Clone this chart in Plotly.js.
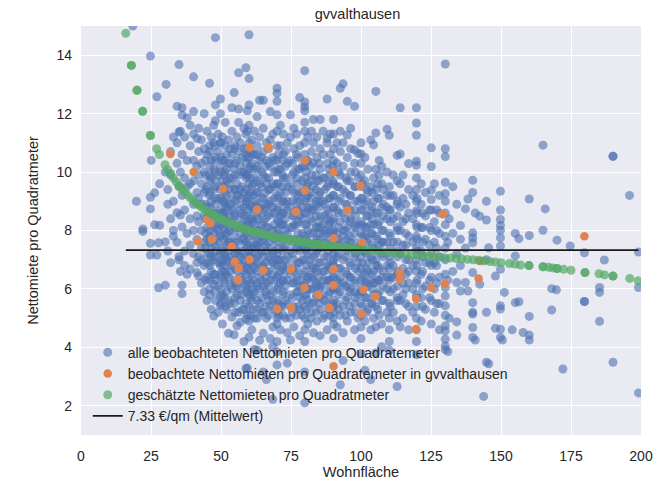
<!DOCTYPE html>
<html>
<head>
<meta charset="utf-8">
<script src="https://cdn.plot.ly/plotly-3.0.1.min.js"></script>
<style>html,body{margin:0;padding:0;background:#fff}#chart{width:656px;height:482px}</style>
</head>
<body>
<div id="chart"></div>
<script>
// ---- data ----
const chartTitle = "gvvalthausen";
const meanRent = 7.33;

// all observed rents per m² grouped by living area (Wohnfläche) — outer part of the cloud
const blueSizes = [18.5,19.8,22.1,24.8,25.1,26.3,27.1,27.7,28.1,30.1,
  30.4,31,32,33,34.3,35,35.5,36.1,37,37.9,
  39,40.2,41.4,42,43,44,45,45.9,46.5,47.4,
  48,49,49.8,50.5,51.5,52.7,53.9,54.7,55.7,56.3,
  56.9,58.2,58.9,59.4,60,61,62,62.9,63.8,65.1,
  66.2,67.6,68.5,70,71.2,72.3,73.7,74.8,76,77,
  78.1,79.9,81,82.3,83,84.2,85.4,86.5,87.9,89,
  90.2,91.4,92.6,93.6,95.1,96.3,97.7,99,100,101.4,
  102.5,103.5,104.5,105.3,106.5,107.4,109.3,110.1,111.5,112.9,
  114,115,117,118.5,119.8,121.5,123,125.1,126.2,128,
  130.1,131,131.5,132.8,134.2,135.5,137.3,138.2,139.9,140.8,
  142.4,143.8,144.8,145.6,148,149.8,150.5,151.2,154,155.1,
  156.4,157.9,160.1,165,165.8,168.1,169.8,170,172.1,174.7,
  179.8,185.2,186.9,190,195.9,199.1];
const blueRents = [
  [15.0],[9.0],[7.97,8.05],[13.97,9.14,8.74,7.56,7.16],[10.4],[9.29,8.2],[12.58,7.16],[7.58,6.04],[8.18,9.6],[6.13,7.61,10.0],
  [13.0],[8.9,7.3,9.4],[10.7,8.4,6.9,9.9],[9.0,7.8,11.2,8.0],[12.25,7.6,8.61,10.3,11.0],[7.1,7.0,9.5,13.68,11.37],[8.53,10.0,11.4,6.6],[12.2,11.95,8.12,6.13,5.84,9.2,10.6],[7.3,8.7,9.8,11.2,6.8],[11.86,9.5,7.9,10.4,6.5],
  [6.68,8.4,9.6,10.9,7.5,11.6],[13.26,12.07,7.2,8.0,8.9,9.7,10.4,11.3],[6.56,7.7,8.5,9.3,10.2,11.15,6.9],[6.44,7.1,8.3,9.1,9.9,10.7,11.5],[6.2,7.4,8.0,8.9,9.6,10.3,11.1,7.0],[5.9,6.8,7.6,8.5,9.3,10.0,10.8,12.0],[6.4,7.2,8.1,8.8,9.5,10.6,11.4,5.6,7.7],[13.04,6.0,6.9,7.8,8.5,9.2,9.9,10.9],[5.3,6.6,7.4,8.2,9.0,9.8,10.4,11.2,7.1],[6.16,5.07,7.0,7.9,8.6,9.4,10.1,11.0,11.6,6.5],
  [14.6,12.3,11.76,5.6,6.3,7.3,8.1,8.9,9.7,10.5,7.7],[5.2,6.1,6.9,7.6,8.4,9.1,9.9,10.7,11.3,8.0],[12.5,12.0,5.73,5.44,6.5,7.2,7.9,8.7,9.4,10.2,11.0,6.8],[4.8,5.8,6.6,7.4,8.2,9.0,9.7,10.4,11.2,7.0,8.6],[5.4,6.2,7.1,7.8,8.5,9.3,10.0,10.9,11.7,6.6,8.9],[4.48,5.6,6.4,7.3,8.0,8.8,9.6,10.3,11.1,6.9,7.6],[5.04,6.0,6.8,7.5,8.3,9.1,9.8,10.6,11.4,12.2,8.7],[12.72,4.43,5.5,6.3,7.0,7.8,8.6,9.4,10.1,10.8,7.4],[4.74,5.8,6.6,7.3,8.1,8.9,9.6,10.4,11.2,6.1,9.2],[13.4,12.16,11.7,5.2,6.0,6.9,7.6,8.4,9.2,9.9,10.7,7.2],
  [4.86,5.6,6.4,7.1,7.9,8.7,9.4,10.2,11.0,8.1],[4.2,5.3,6.2,7.0,7.7,8.5,9.3,10.0,10.8,11.5,6.6,8.8],[13.57,4.97,3.28,5.9,6.7,7.4,8.2,9.0,9.8,10.5,11.3,7.9],[3.29,5.1,6.0,6.8,7.5,8.3,9.1,9.9,10.6,11.4,12.1],[14.7,13.2,4.35,5.4,5.8,6.3,6.9,7.3,7.8,8.2,8.7,9.2,9.6,10.1,10.5,11.0,11.6,12.3,4.9,7.1],[4.6,5.6,6.5,7.2,8.0,8.8,9.5,10.3,11.1,6.0,8.4],[3.93,5.0,5.9,6.7,7.5,8.2,9.0,9.8,10.6,11.4,7.0],[11.9,3.9,5.3,6.2,6.9,7.7,8.5,9.3,10.1,10.9,7.4,8.9],[4.24,5.5,6.4,7.2,8.0,8.8,9.6,10.4,11.2,6.0,7.6,12.46],[12.46,4.48,3.16,5.2,6.1,6.8,7.6,8.3,9.1,9.9,10.7,11.5,7.1,8.7],
  [2.9,5.0,5.8,6.6,7.3,8.1,8.9,9.6,10.4,11.0,6.2,7.8],[12.07,4.3,5.4,6.3,7.0,7.8,8.6,9.4,10.2,11.1,5.8,7.4,9.0],[2.22,4.02,4.7,5.6,6.5,7.2,8.0,8.8,9.6,10.5,11.3,6.9],[12.87,12.7,12.42,11.96,4.2,3.85,3.4,4.8,5.2,5.6,6.0,6.4,6.8,7.2,7.6,8.0,8.4,8.8,9.2,9.6,10.0,10.4,10.9,11.4,5.0,7.0],[4.6,5.4,6.2,7.0,7.8,8.5,9.3,10.1,10.9,11.6,6.6,8.2],[5.1,5.9,6.7,7.4,8.2,9.0,9.8,10.6,11.3,6.3,8.6],[3.46,4.5,5.5,6.3,7.1,7.9,8.7,9.5,10.3,11.0,6.8,9.0],[11.96,4.25,5.0,5.8,6.5,7.3,8.1,8.8,9.6,10.4,11.2,7.7],[4.7,5.4,6.2,7.0,7.7,8.5,9.3,10.0,10.8,11.5,6.6,8.2],[5.1,5.9,6.7,7.4,8.2,9.0,9.8,10.6,11.3,6.3,8.7],
  [12.55,4.4,5.3,6.1,6.9,7.7,8.5,9.3,10.1,10.9,5.7,7.3,9.0],[13.47,12.4,12.23,12.1,11.7,3.16,2.1,4.6,5.0,5.4,5.8,6.2,6.6,7.0,7.4,7.8,8.2,8.6,9.0,9.4,9.8,10.2,10.6,11.0,11.4,4.2],[4.8,5.6,6.4,7.2,8.0,8.8,9.6,10.4,11.2,6.0,7.6,9.2],[5.2,6.0,6.8,7.5,8.3,9.1,9.9,10.7,11.4,6.4,8.7],[11.8,4.5,5.5,6.3,7.1,7.9,8.7,9.5,10.3,11.0,6.7],[4.9,5.8,6.6,7.3,8.1,8.9,9.7,10.5,11.2,6.1,7.7],[4.4,5.3,6.1,6.9,7.7,8.5,9.3,10.1,10.8,5.7,8.1,9.0,11.8],[5.0,5.8,6.6,7.4,8.2,9.0,9.8,10.6,11.4,6.3,7.9],[12.5,11.15,4.6,5.5,6.3,7.1,7.9,8.7,9.5,10.3,11.0,6.8,8.4],[5.1,5.9,6.7,7.5,8.3,9.1,9.9,10.6,11.3,6.3,8.0],
  [4.3,4.8,5.2,5.6,6.0,6.4,6.8,7.2,7.6,8.0,8.4,8.8,9.2,9.6,10.0,10.4,10.8,11.3,11.8,5.4,7.0],[4.7,5.5,6.3,7.1,7.9,8.7,9.5,10.3,11.0,6.0,7.6],[12.87,2.72,5.1,5.9,6.7,7.5,8.3,9.1,9.9,10.7,11.4,6.4],[13.02,3.55,4.5,5.4,6.2,7.0,7.8,8.6,9.4,10.2,11.0,8.0],[12.42,11.27,4.9,5.7,6.5,7.3,8.1,8.9,9.7,10.5,6.1,7.7],[5.2,6.0,6.8,7.6,8.4,9.2,10.0,10.8,11.5,6.4],[12.25,10.76,4.6,5.5,6.3,7.1,7.9,8.7,9.5,10.3,5.9,8.2],[5.0,5.8,6.6,7.4,8.2,9.0,9.8,10.64,6.9],[10.62,3.79,4.3,4.7,5.1,5.5,5.9,6.3,6.7,7.1,7.5,7.9,8.3,8.7,9.1,9.5,9.9,10.3,11.0,6.0],[3.22,4.9,5.7,6.5,7.3,8.1,8.9,9.7,10.5,6.2,7.8],
  [5.3,6.1,6.9,7.7,8.5,9.3,10.1,6.6],[2.9,4.6,5.5,6.3,7.1,7.9,8.7,9.5,11.1,8.2],[10.93,5.0,5.8,6.6,7.4,8.2,9.0,9.8,6.2],[11.34,3.81,4.7,5.4,6.2,7.0,7.8,8.6,9.4,10.1,12.76,6.8],[5.1,5.9,6.7,7.5,8.3,9.1,9.9,10.4,6.3],[4.02,4.8,5.6,6.4,7.2,8.0,8.8,9.6,10.2,7.6],[11.47,5.2,6.0,6.8,7.6,8.4,9.2,10.0,6.4,8.8],[11.26,4.2,3.9,4.6,5.5,6.3,7.1,7.9,8.7,9.5,5.0,6.7],[5.2,6.0,6.8,7.6,8.4,9.2,9.9,6.4],[2.66,10.57,4.9,5.7,6.5,7.3,8.1,8.9,9.7],
  [12.2,10.62,4.7,5.6,6.4,7.2,8.0,8.8,9.6],[5.0,5.8,6.7,7.5,8.3,9.1,9.9,6.2],[10.29,4.6,5.4,6.2,7.0,7.8,8.6,9.4,6.6],[5.2,6.0,6.8,7.6,8.4,9.2],[12.2,11.68,11.26,10.37,10.23,4.2,3.75,4.6,5.0,5.4,5.8,6.2,6.6,7.0,7.4,7.8,8.2,8.68,9.0,9.4,9.8],[4.9,5.7,6.5,7.3,8.1,8.9,9.6],[5.3,6.1,6.9,7.7,8.5,9.3],[10.83,10.19,9.06,9.38,4.8,5.6,6.4,7.2,8.0,8.7,6.8],[5.2,6.0,6.9,7.6,8.3,9.6],[4.6,5.5,6.4,7.1,7.9,8.6,9.2],
  [13.7,10.8,10.53,9.65,9.26,4.74,4.57,4.28,4.05,3.92,6.05,5.76,5.42,5.1,6.5,7.0,7.4,7.8,8.2,8.6,9.0],[3.86,6.3,7.6],[5.0,8.4],[6.6,7.9,9.5],[8.9,4.87,4.42,6.22,7.2],[8.17,5.93,6.8,7.7],[8.74,6.22,7.4],[5.93,9.08],[9.72,9.3,7.92,7.75,7.58,6.56,5.53,5.2,5.14,4.68,4.34],[4.25,8.6],
  [8.49,6.16],[2.32],[9.0,8.36,5.2,3.49,7.0],[7.41,3.44],[6.44,4.65],[9.34,8.7,8.38,8.17,8.01,7.75,7.47,6.67,5.42,5.31,4.62,4.34],[4.25],[5.88],[4.6],[7.9,7.13,5.53],
  [7.72,5.56],[4.51],[9.08,7.83,5.06,4.42,4.25],[10.92,8.01],[8.74],[6.01,5.28],[5.97],[7.67],[3.26],[7.47],
  [7.24,5.57,5.57],[6.05,5.88,4.89],[6.99],[10.54,10.54,3.49],[9.2],[7.26,6.05,2.44]
];

// all observed rents — dense core of the cloud
const coreSizes = [44.5,46,47.8,50,51,52,53.2,55,57.5,59,
  60.5,61.5,63,64.5,66,67,69,70.5,72,73,
  75.5,77.5,79,80.5,82,84,85,87,88.5,90,
  92,94.5,96,98,100.5,102,104,106,108,110.5,
  113,116,120,122,124.5,127];
const coreRents = [
  [6.3,6.9,7.4,7.9,8.4,8.9,9.4,9.9,10.4],
  [5.8,6.3,6.8,7.2,7.6,8.0,8.4,8.8,9.3,9.7,10.2,10.7],
  [5.9,6.5,7.1,7.5,8.2,8.6,9.1,9.5,10.0,10.4,10.9],
  [5.5,6.0,6.4,6.9,7.3,7.8,8.2,8.6,9.1,9.5,10.0,10.5,11.0],
  [5.7,6.3,6.8,7.2,7.7,8.1,8.6,9.0,9.5,9.9,10.4],
  [5.3,5.9,6.5,7.0,7.5,7.9,8.3,8.8,9.2,9.7,10.1,10.6],
  [5.5,6.1,6.6,7.1,7.6,8.0,8.5,8.9,9.4,9.8,10.3,10.8],
  [5.2,5.7,6.2,6.7,7.2,7.6,8.1,8.5,9.0,9.4,9.9,10.3,10.9],
  [5.3,5.8,6.3,6.8,7.3,7.7,8.2,8.6,9.1,9.5,10.0,10.5],
  [5.5,6.1,6.5,7.1,7.6,8.0,8.5,8.9,9.4,9.9,10.3,10.8],
  [5.1,5.7,6.2,6.6,7.1,7.5,8.0,8.4,8.9,9.3,9.8,10.2,10.7],
  [5.3,5.8,6.3,6.8,7.4,7.8,8.3,8.7,9.2,9.6,10.1,10.6],
  [5.0,5.6,6.1,6.6,7.1,7.5,8.0,8.4,8.8,9.3,9.7,10.2,10.6],
  [5.2,5.7,6.3,6.8,7.3,7.8,8.2,8.6,9.1,9.5,10.0,10.5],
  [5.4,5.9,6.4,6.9,7.5,7.9,8.4,8.8,9.3,9.8,10.2],
  [5.1,5.6,6.1,6.6,7.1,7.6,8.1,8.5,8.9,9.4,9.8,10.3,10.8],
  [5.3,5.9,6.3,6.8,7.3,7.7,8.2,8.6,9.1,9.5,10.0,10.4],
  [5.1,5.5,6.1,6.5,7.0,7.4,7.9,8.3,8.7,9.1,9.6,10.1,10.6],
  [5.4,5.8,6.3,6.8,7.3,7.7,8.2,8.6,9.0,9.5,9.9,10.4],
  [5.0,5.6,6.1,6.6,7.0,7.5,8.0,8.4,8.9,9.3,9.8,10.2,10.7],
  [5.2,5.7,6.2,6.7,7.2,7.6,8.1,8.5,9.0,9.4,9.9,10.3],
  [5.4,5.9,6.4,6.9,7.4,7.9,8.3,8.7,9.2,9.6,10.1,10.5],
  [5.1,5.6,6.1,6.5,7.0,7.5,7.9,8.4,8.8,9.3,9.7,10.2],
  [5.3,5.8,6.3,6.8,7.3,7.7,8.2,8.6,9.1,9.5,10.0,10.4],
  [5.0,5.5,6.0,6.5,7.0,7.5,7.9,8.4,8.8,9.3,9.7,10.2],
  [5.2,5.7,6.2,6.7,7.2,7.6,8.1,8.5,9.0,9.4,9.9],
  [5.5,6.0,6.4,6.9,7.4,7.9,8.3,8.8,9.2,9.7,10.3],
  [5.1,5.6,6.1,6.6,7.1,7.6,8.0,8.5,8.9,9.4,9.8],
  [5.3,5.8,6.3,6.8,7.3,7.7,8.2,8.6,9.1,9.6,10.1],
  [5.0,5.5,6.0,6.5,6.9,7.4,7.9,8.3,8.8,9.2,9.7,10.2],
  [5.3,5.8,6.2,6.7,7.2,7.7,8.1,8.6,9.0,9.5,10.0],
  [5.1,5.6,6.1,6.6,7.1,7.5,8.0,8.4,8.9,9.3,9.8],
  [5.4,5.9,6.4,6.9,7.4,7.8,8.3,8.7,9.2,9.7],
  [5.2,5.7,6.2,6.7,7.2,7.6,8.1,8.5,9.0,9.5,10.0],
  [5.4,5.9,6.4,6.9,7.3,7.8,8.2,8.7,9.1,9.6],
  [5.2,5.7,6.2,6.7,7.2,7.6,8.1,8.5,9.0,9.4],
  [5.5,6.0,6.5,7.0,7.5,7.9,8.4,8.8,9.3],
  [5.3,5.8,6.3,6.8,7.3,7.7,8.2,8.6,9.1,9.6],
  [5.6,6.1,6.6,7.1,7.6,8.0,8.5,8.9,9.4],
  [5.4,5.9,6.4,6.9,7.4,7.8,8.3,8.7,9.2],
  [5.6,6.1,6.6,7.1,7.6,8.0,8.5,9.0],
  [5.5,6.0,6.5,7.0,7.5,7.9,8.4,8.9],
  [5.7,6.3,6.8,7.3,7.7,8.1,8.6,9.1],
  [5.4,6.0,6.6,7.1,7.6,8.1,8.6],
  [5.7,6.3,6.9,7.5,8.1,8.7],
  [5.5,6.2,6.8,7.4,8.0,8.7]
];

// observed rents in gvvalthausen
const localSizes = [31.9,40.2,50.7,60.2,67,79.9,90.2,79.9,62.9,76.8,
  95.1,99.8,45,46.2,41.8,46.8,53.9,54.9,56.3,60.2,
  65,75,90.2,56.1,79.8,84.8,90.2,70,75,88.8,
  90.2,100.4,100.9,105.1,100.1,113.9,113.9,125.1,130,119.7,
  119.7,129.2,142,142.6,179.8,90.2];
const localRents = [10.62,10.0,9.43,10.84,10.84,10.4,10.0,9.37,8.72,8.64,
  8.69,9.52,8.38,8.24,7.62,7.7,7.45,6.93,6.71,7.01,
  6.64,6.68,6.68,6.3,6.04,5.79,6.13,5.32,5.35,5.35,
  7.73,7.58,5.97,5.74,5.14,6.55,6.33,6.04,6.17,5.66,
  4.63,8.56,6.36,6.96,7.8,3.35];

// estimated rents per m²
const estSizes = [16,18,18,20,20,22,22,24.8,24.8,27,28,
  30,31,32,33,34,35,36,37,38,39,
  40,41,42,43,44,45,46,47,48,49,
  50,51,52,53,54,55,56,57,58,59,
  60,61,62,63,64,65,66,67,68,69,
  70,71,72,73,74,75,76,77,78,79,
  80,81,82,83,84,85,86,87,88,89,
  90,91,92,93,94,95,96,97,98,99,
  100,102,104,106,108,110,112,114,116,118,
  120,122,124,126,128,130,132,134,136,138,
  140,142,144,146,148,150,153,
  155,157,160,160,165,165,167,168.4,170,170,172.4,175,180,180,185,187,190,190,196,199];
const estRents = [14.75,13.65,13.65,12.8,12.8,12.08,12.08,11.25,11.25,10.8,10.6,
  10.25,10.08,9.95,9.8,9.67,9.55,9.43,9.33,9.22,9.12,
  9.03,8.95,8.87,8.8,8.73,8.66,8.6,8.55,8.49,8.44,
  8.39,8.34,8.3,8.26,8.22,8.18,8.14,8.1,8.07,8.03,
  8.0,7.97,7.95,7.92,7.9,7.88,7.86,7.83,7.81,7.79,
  7.77,7.75,7.73,7.71,7.69,7.67,7.66,7.64,7.62,7.61,
  7.59,7.58,7.56,7.54,7.53,7.52,7.5,7.49,7.48,7.46,
  7.45,7.44,7.43,7.42,7.41,7.4,7.39,7.38,7.37,7.36,
  7.35,7.33,7.31,7.29,7.27,7.25,7.23,7.21,7.19,7.18,
  7.16,7.14,7.13,7.11,7.09,7.07,7.06,7.04,7.03,7.01,
  7.0,6.98,6.96,6.94,6.92,6.9,6.87,
  6.85,6.82,6.8,6.8,6.76,6.76,6.74,6.72,6.7,6.7,6.67,6.64,6.56,6.56,6.52,6.48,6.44,6.44,6.36,6.28];

const xTicks = [0,25,50,75,100,125,150,175,200];

// ---- build traces ----
const bx = [], by = [];
blueSizes.forEach((s, i) => (blueRents[i] || []).forEach(r => { bx.push(s); by.push(r); }));
coreSizes.forEach((s, i) => (coreRents[i] || []).forEach(r => { bx.push(s); by.push(r); }));

const lineX = [Math.min(...estSizes), Math.max(...blueSizes)];
const lineY = lineX.map(() => meanRent);

const FONT = "Liberation Sans, Arial, sans-serif";
const TXT = "#262626";

const traces = [
  {type:"scatter", mode:"markers", x:bx, y:by, name:"alle beobachteten Nettomieten pro Quadratemeter",
   marker:{color:"#4C72B0", size:9, opacity:0.6, line:{width:0}}},
  {type:"scatter", mode:"markers", x:localSizes, y:localRents, name:"beobachtete Nettomieten pro Quadratemeter in gvvalthausen",
   marker:{color:"#DD8452", size:8.5, opacity:1, line:{width:0}}},
  {type:"scatter", mode:"markers", x:estSizes, y:estRents, name:"geschätzte Nettomieten pro Quadratmeter",
   marker:{color:"#55A868", size:9, opacity:0.7, line:{width:0}}},
  {type:"scatter", mode:"lines", x:lineX, y:lineY, name: meanRent.toFixed(2) + " €/qm (Mittelwert)",
   line:{color:"#1a1a1a", width:1.8}}
];

const layout = {
  width:656, height:482,
  margin:{l:81, r:15, t:26, b:47, pad:0},
  paper_bgcolor:"#ffffff", plot_bgcolor:"#EAEAF2",
  font:{family:FONT, size:14, color:TXT},
  title:{text:chartTitle, font:{family:FONT, size:14.5, color:TXT}, x:0.545, xanchor:"center", y:0.972, yanchor:"middle"},
  xaxis:{range:[0,200], tickvals:xTicks, showgrid:true, gridcolor:"#ffffff", gridwidth:1, zeroline:false, showline:false, ticks:"",
         ticklabelstandoff:11,
         title:{text:"Wohnfläche", font:{family:FONT, size:14.5, color:TXT}, standoff:3}, tickfont:{size:14, color:TXT}},
  yaxis:{range:[1,15], tick0:0, dtick:2, showgrid:true, gridcolor:"#ffffff", gridwidth:1, zeroline:false, showline:false, ticks:"",
         ticklabelstandoff:8,
         title:{text:"Nettomiete pro Quadratmeter", font:{family:FONT, size:14.5, color:TXT}, standoff:14}, tickfont:{size:14, color:TXT}},
  showlegend:true,
  legend:{x:0.012, xanchor:"left", y:0.008, yanchor:"bottom", bgcolor:"rgba(0,0,0,0)", borderwidth:0,
          font:{family:FONT, size:14, color:TXT}, tracegroupgap:0, itemsizing:"trace"}
};

Plotly.newPlot("chart", traces, layout, {displayModeBar:false, staticPlot:true});
</script>
</body>
</html>
